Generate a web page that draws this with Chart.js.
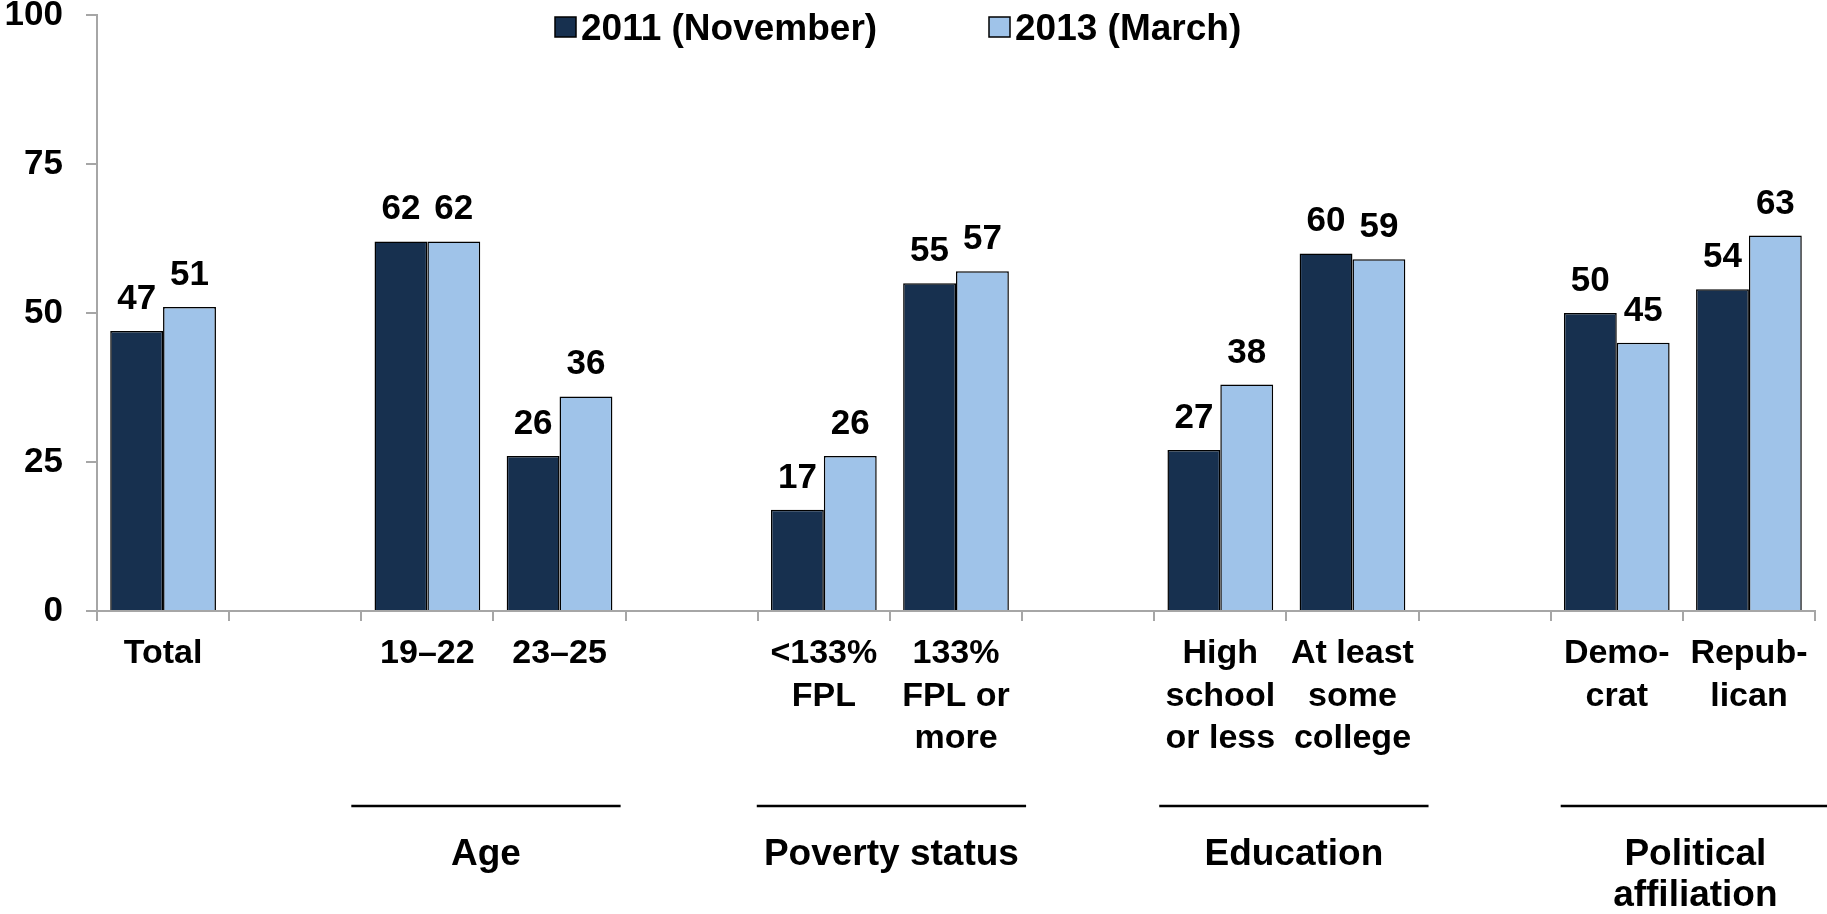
<!DOCTYPE html>
<html>
<head>
<meta charset="utf-8">
<script src="https://cdn.jsdelivr.net/npm/chart.js@4/dist/chart.umd.min.js"></script>
<style>
  html, body { margin: 0; padding: 0; background: #fff; }
  #wrap { width: 1827px; height: 914px; position: relative; }
</style>
</head>
<body>
<div id="wrap"><canvas id="chart" width="1827" height="914"></canvas></div>
<script>
// categories ('' = spacer slot between groups)
const categories = [
  "Total", "",
  "19–22", "23–25", "",
  ["<133%", "FPL"], ["133%", "FPL or", "more"], "",
  ["High", "school", "or less"], ["At least", "some", "college"], "",
  ["Demo-", "crat"], ["Repub-", "lican"]
];
const nov2011 = [47, null, 62, 26, null, 17, 55, null, 27, 60, null, 50, 54];
const mar2013 = [51, null, 62, 36, null, 26, 57, null, 38, 59, null, 45, 63];
const seriesNames = ["2011 (November)", "2013 (March)"];
const seriesColors = ["#17304f", "#9fc3e9"];
const yTicks = [0, 25, 50, 75, 100];

// group captions under the axis, with the category slots they cover
const groupNames = [["Age"], ["Poverty status"], ["Education"], ["Political", "affiliation"]];
const groupSpans = [[2, 3], [5, 6], [8, 9], [11, 12]];

const FONT = '"Liberation Sans", Arial, sans-serif';

// numbers above each bar
const valueLabels = {
  id: "valueLabels",
  afterDatasetsDraw(chart) {
    const ctx = chart.ctx;
    ctx.save();
    ctx.font = "bold 35px " + FONT;
    ctx.fillStyle = "#000";
    ctx.textAlign = "center";
    ctx.textBaseline = "alphabetic";
    chart.data.datasets.forEach((ds, i) => {
      chart.getDatasetMeta(i).data.forEach((bar, j) => {
        if (ds.data[j] == null) return;
        ctx.fillText(String(ds.data[j]), bar.x, bar.y - 22);
      });
    });
    ctx.restore();
  }
};

// group rules + captions below the category labels
const groupLabels = {
  id: "groupLabels",
  afterDraw(chart) {
    const ctx = chart.ctx;
    const x = chart.scales.x;
    const base = chart.chartArea.bottom;
    const half = (x.getPixelForValue(1) - x.getPixelForValue(0)) / 2;
    const ruleShift = [-10, -1, 5, 10]; // the rules drift a little in the original
    ctx.save();
    ctx.strokeStyle = "#000";
    ctx.lineWidth = 2.5;
    ctx.fillStyle = "#000";
    ctx.font = "bold 37px " + FONT;
    ctx.textAlign = "center";
    ctx.textBaseline = "middle";
    groupSpans.forEach((span, i) => {
      const x0 = x.getPixelForValue(span[0]) - half + ruleShift[i];
      const x1 = x.getPixelForValue(span[1]) + half + ruleShift[i] + 5;
      ctx.beginPath();
      ctx.moveTo(x0, base + 195);
      ctx.lineTo(x1, base + 195);
      ctx.stroke();
      groupNames[i].forEach((line, k) => {
        ctx.fillText(line, (x0 + x1) / 2, base + 244 + k * 41);
      });
    });
    ctx.restore();
  }
};

// legend drawn over the top of the plot
const topLegend = {
  id: "topLegend",
  afterDraw(chart) {
    const ctx = chart.ctx;
    const starts = [555, 989];
    ctx.save();
    ctx.font = "bold 37px " + FONT;
    ctx.textBaseline = "middle";
    ctx.textAlign = "left";
    seriesNames.forEach((name, i) => {
      ctx.fillStyle = seriesColors[i];
      ctx.fillRect(starts[i], 17, 21, 20);
      ctx.strokeStyle = "#000";
      ctx.lineWidth = 1.5;
      ctx.strokeRect(starts[i], 17, 21, 20);
      ctx.fillStyle = "#000";
      ctx.fillText(name, starts[i] + 26, 30);
    });
    ctx.restore();
  }
};

new Chart(document.getElementById("chart"), {
  type: "bar",
  data: {
    labels: categories,
    datasets: [
      {
        label: seriesNames[0],
        data: nov2011,
        backgroundColor: seriesColors[0],
        borderColor: "#000",
        borderWidth: 1.5,
        categoryPercentage: 0.8,
        barPercentage: 1.0
      },
      {
        label: seriesNames[1],
        data: mar2013,
        backgroundColor: seriesColors[1],
        borderColor: "#000",
        borderWidth: 1.5,
        categoryPercentage: 0.8,
        barPercentage: 1.0
      }
    ]
  },
  options: {
    responsive: false,
    animation: false,
    layout: { padding: { top: 15, right: 12, left: 0, bottom: 0 } },
    plugins: {
      legend: { display: false },
      tooltip: { enabled: false }
    },
    scales: {
      x: {
        offset: true,
        grid: {
          offset: true,
          drawOnChartArea: false,
          drawTicks: true,
          tickLength: 10,
          color: "#a6a6a6",
          lineWidth: 2
        },
        border: { color: "#a6a6a6", width: 2 },
        ticks: {
          autoSkip: false,
          maxRotation: 0,
          padding: 12,
          color: "#000",
          font: { family: FONT, size: 34, weight: "bold", lineHeight: 1.24 }
        },
        afterFit(scale) { scale.height = 303; }
      },
      y: {
        min: 0,
        max: 100,
        afterBuildTicks(scale) { scale.ticks = yTicks.map(v => ({ value: v })); },
        grid: {
          drawOnChartArea: false,
          drawTicks: true,
          tickLength: 11,
          color: "#a6a6a6",
          lineWidth: 2
        },
        border: { color: "#a6a6a6", width: 2 },
        ticks: {
          padding: 23,
          color: "#000",
          font: { family: FONT, size: 35, weight: "bold" }
        },
        afterFit(scale) {
          scale.width = 97;
          // don't let the top label push the plot down
          scale.paddingTop = 0;
          scale.paddingBottom = 0;
        }
      }
    }
  },
  plugins: [valueLabels, groupLabels, topLegend]
});
</script>
</body>
</html>
